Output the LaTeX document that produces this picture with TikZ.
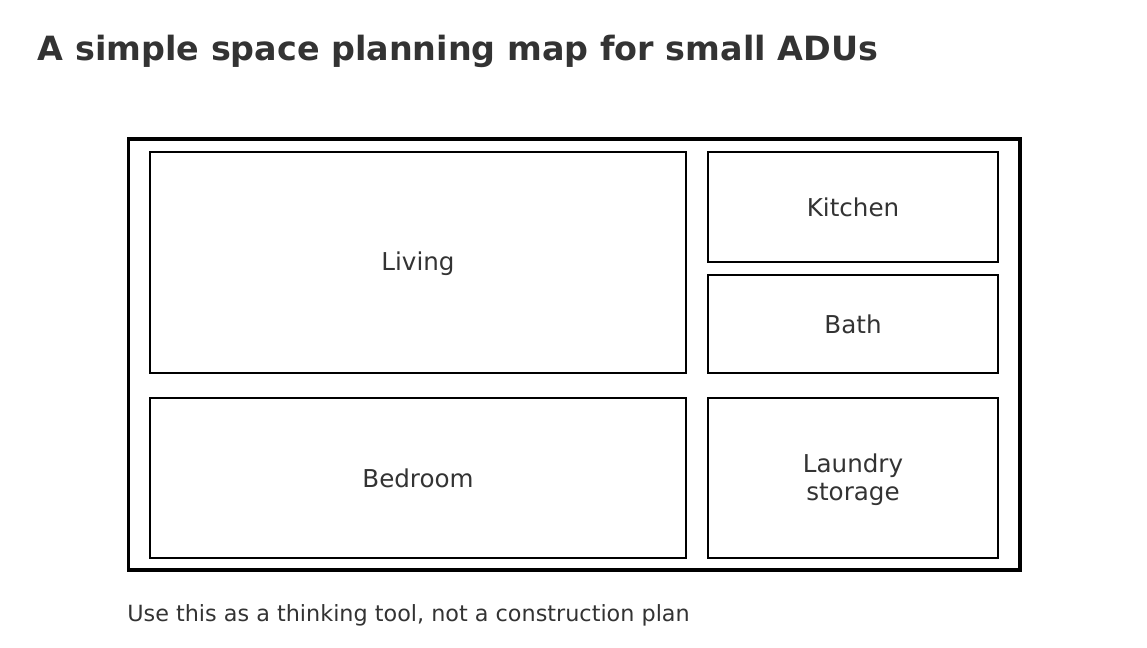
\documentclass[tikz,border=0pt]{standalone}
\usepackage{fontspec}
\setmainfont{DejaVu Sans}
\usepackage{xcolor}
\usepackage{tikz}
\definecolor{inkgray}{HTML}{333333}

\begin{document}
\begin{tikzpicture}[x=0.02cm,y=-0.02cm]
        \tikzset{
          wall/.style={black,line width=2pt},
          room/.style={black,line width=1.3pt},
          roomlabel/.style={text=inkgray,font=\fontsize{14}{16}\selectfont,align=center,inner sep=0pt}
        }
        \useasboundingbox (0,0) rectangle (1147,648);
        \node [anchor=base west,inner sep=0pt,text=inkgray] (title) at (37.5,61) {\fontsize{19}{23}\selectfont\bfseries A simple space planning map for small ADUs};
        % outer wall
        \draw [wall] (128.5,139) rectangle (1020,570);
        % rooms
        \draw [room] (150,152) rectangle (686,373);
        \node [roomlabel] (living) at (418,263.5) {Living};
        \draw [room] (708,152) rectangle (998,262);
        \node [roomlabel] (kitchen) at (853,207) {Kitchen};
        \draw [room] (708,275) rectangle (998,373);
        \node [roomlabel] (bath) at (853,324) {Bath};
        \draw [room] (150,398) rectangle (686,558);
        \node [roomlabel] (bedroom) at (418,478) {Bedroom};
        \draw [room] (708,398) rectangle (998,558);
        \node [roomlabel] (laundry) at (853,480) {Laundry\\storage};
        \node [anchor=base west,inner sep=0pt,text=inkgray] (note) at (127,621.5) {\fontsize{12.7}{15}\selectfont Use this as a thinking tool, not a construction plan};
    \end{tikzpicture}
\end{document}
